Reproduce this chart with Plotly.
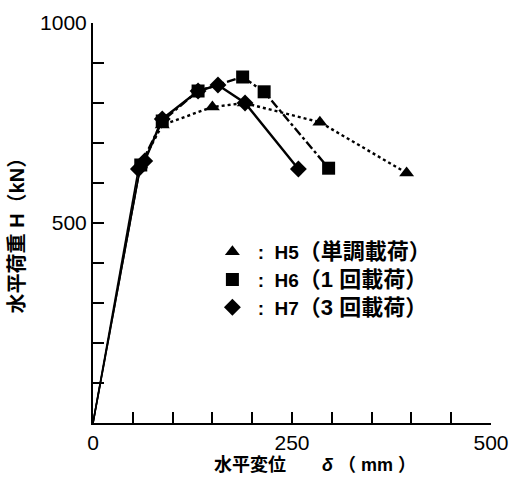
import plotly.graph_objects as go

# H5 (monotonic), H6 (1 cycle), H7 (3 cycles)
h5_x = [0, 60, 87, 150, 190, 285, 394]
h5_y = [0, 645, 745, 790, 800, 752, 625]
h6_x = [0, 60, 87, 132, 188, 215, 296]
h6_y = [0, 645, 755, 830, 865, 828, 637]
h7_x = [0, 57, 65, 87, 132, 157, 191, 258]
h7_y = [0, 635, 655, 760, 830, 845, 800, 635]

series_names = ["H5", "H6", "H7"]
series_notes = ["単調載荷", "1 回載荷", "3 回載荷"]
x_ticks = [0, 250, 500]
y_ticks = [500, 1000]

JP = "Liberation Sans, Noto Sans CJK JP"
BIG = '<span style="font-size:22px">'

fig = go.Figure()
series = [
    (h5_x, h5_y, "dot", "triangle-up"),
    (h6_x, h6_y, "dashdot", "square"),
    (h7_x, h7_y, "solid", "diamond"),
]
for i, (xs, ys, dash, sym) in enumerate(series):
    lab = f" :  {series_names[i]}{BIG}（{series_notes[i]}）</span>"
    fig.add_trace(go.Scatter(
        x=xs[1:], y=ys[1:], mode="lines+markers",
        line=dict(color="black", width=2.4, dash=dash),
        marker=dict(symbol=sym, size=13, color="black"),
        showlegend=False, cliponaxis=False))
    # loading branch from origin
    fig.add_trace(go.Scatter(
        x=xs[:2], y=ys[:2], mode="lines",
        line=dict(color="black", width=1.6),
        showlegend=False))
    fig.add_trace(go.Scatter(
        x=[None], y=[None], mode="markers",
        marker=dict(symbol=sym, size=13, color="black"),
        name=lab, legendgroup=f"g{i}", showlegend=True))

fig.update_layout(
    width=510, height=477,
    margin=dict(l=93, r=19, t=23, b=54),
    paper_bgcolor="white", plot_bgcolor="white",
    font=dict(family=JP, size=21, color="black"),
    showlegend=True,
    legend=dict(x=0.3, y=0.475, xanchor="left", yanchor="top",
                font=dict(family=JP, size=19, color="black", weight="bold"),
                bgcolor="rgba(0,0,0,0)", tracegroupgap=0,
                itemwidth=30),
    xaxis=dict(range=[0, 500], tickvals=x_ticks, ticktext=[str(v) for v in x_ticks],
               ticks="inside", ticklen=11, tickwidth=1.5, tickcolor="black",
               minor=dict(dtick=50, ticks="inside", ticklen=11, tickwidth=1.5, tickcolor="black"),
               showline=True, linecolor="black", linewidth=2, showgrid=False, zeroline=False,
               automargin=False),
    yaxis=dict(range=[0, 1000], tickvals=y_ticks, ticktext=[str(v) for v in y_ticks],
               ticks="inside", ticklen=11, tickwidth=1.5, tickcolor="black",
               minor=dict(dtick=100, ticks="inside", ticklen=11, tickwidth=1.5, tickcolor="black"),
               showline=True, linecolor="black", linewidth=2, showgrid=False, zeroline=False,
               automargin=False),
    annotations=[
        dict(text="水平変位　　<i>δ</i> （ mm ）", xref="paper", yref="paper",
             x=0.299, y=-0.105, xanchor="left", yanchor="middle", showarrow=False,
             font=dict(family=JP, size=18, weight="bold")),
        dict(text="水平荷重 H（kN）", xref="paper", yref="paper", textangle=-90,
             x=-0.19, y=0.4825, xanchor="center", yanchor="middle", showarrow=False,
             font=dict(family=JP, size=20, weight="bold")),
    ],
)
fig.write_html("out.html")
